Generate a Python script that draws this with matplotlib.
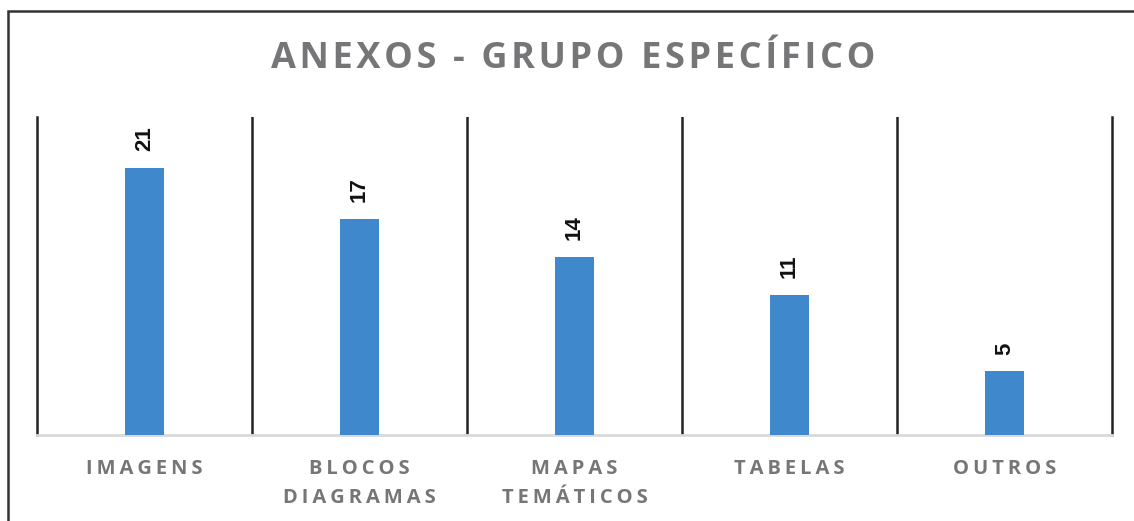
import matplotlib.pyplot as plt
from matplotlib.patches import Rectangle

categories = ['IMAGENS', 'BLOCOS\nDIAGRAMAS', 'MAPAS\nTEMÁTICOS', 'TABELAS', 'OUTROS']
values = [21, 17, 14, 11, 5]
title = 'ANEXOS - GRUPO ESPECÍFICO'

GRAY = '#767679'
BLUE = '#3f88cb'


def spaced(s, sp='\u2009'):
    # fake letter spacing with thin spaces
    return '\n'.join(sp.join(list(line)) for line in s.split('\n'))


fig = plt.figure(figsize=(11.34, 5.21), dpi=100)
ax = fig.add_axes([37 / 1134, 86 / 521, 1075 / 1134, 318 / 521])

x = range(len(categories))
ax.bar(x, values, width=0.18, color=BLUE, zorder=3)
for i, v in zip(x, values):
    ax.annotate(str(v), (i, v), xytext=(0, 12), textcoords='offset points',
                rotation=90, ha='center', va='bottom', fontsize=16,
                fontweight='bold', color='#111111',
                family=['Liberation Sans', 'DejaVu Sans'])

ax.set_xlim(-0.5, len(categories) - 0.5)
ax.set_ylim(0, 25)
ax.set_yticks([])
ax.set_xticks(list(x))
ax.set_xticklabels([spaced(c) for c in categories], color=GRAY, fontsize=14.5,
                   fontweight='bold', linespacing=1.6,
                   family=['Open Sans', 'DejaVu Sans'])
ax.tick_params(axis='x', length=0, pad=17)
ax.set_xticks([i + 0.5 for i in range(len(categories) - 1)], minor=True)
ax.tick_params(axis='x', which='minor', length=0)
ax.grid(which='minor', axis='x', color='#222222', linewidth=1.8)

ax.spines['top'].set_visible(False)
for s in ('left', 'right'):
    ax.spines[s].set_color('#222222')
    ax.spines[s].set_linewidth(1.8)
ax.spines['bottom'].set_color('#d9d9d9')
ax.spines['bottom'].set_linewidth(2)

fig.text(573 / 1134, 1 - 59 / 521, spaced(title, '\u200a'), ha='center',
         va='center', color=GRAY, fontsize=26, fontweight='bold',
         family=['Open Sans', 'DejaVu Sans'])

# outer frame, cut off at right and bottom in the reference
fig.patches.append(Rectangle((8 / 1134, -0.2), 1.2, 1.2 - 11 / 521,
                             transform=fig.transFigure, fill=False,
                             edgecolor='#333333', linewidth=1.8))

fig.savefig('out.png', dpi=100)
